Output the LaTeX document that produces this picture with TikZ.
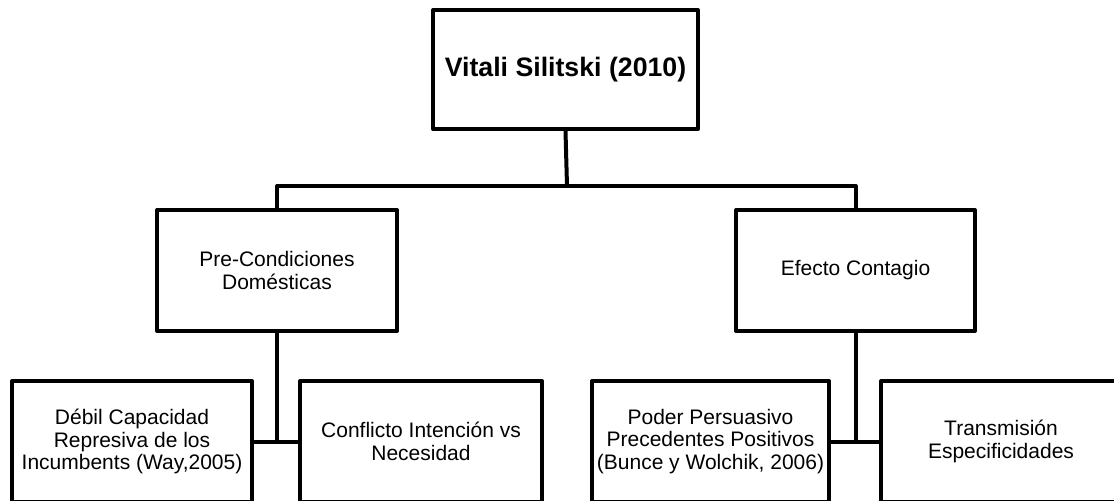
\documentclass[tikz,border=0pt]{standalone}
\usepackage{fontspec}
\setmainfont{Liberation Sans}
\usetikzlibrary{positioning, calc}

\tikzset{
  box/.style={draw, line width=2pt, line join=round, align=center, inner sep=0pt,
    minimum height=60.5pt, font=\fontsize{10.5}{11.35}\selectfont},
  topbox/.style={box, minimum width=132.5pt, minimum height=59.5pt,
    font=\fontsize{13.35}{14}\selectfont\bfseries},
  link/.style={line width=2pt, line join=round}
}

\begin{document}
\begin{tikzpicture}[x=0.5pt, y=-0.5pt]
            \useasboundingbox (0,0) rectangle (1114,500);
            \clip (0,0) rectangle (1114,500);
            % top level
            \node[topbox] (vs) at (565.5,69.5) {Vitali Silitski (2010)};
            % second level
            \node[box, minimum width=120pt] (pc) at (277,270.5) {Pre-Condiciones\\Domésticas};
            \node[box, minimum width=119.5pt] (ec) at (855.5,270.5) {Efecto Contagio};
            % third level
            \node[box, minimum width=120pt] (dcr) at (132,441.5) {Débil Capacidad\\Represiva de los\\Incumbents (Way,2005)};
            \node[box, minimum width=121pt] (civ) at (421,441.5) {Conflicto Intención vs\\Necesidad};
            \node[box, minimum width=118.5pt] (ppp) at (710.5,441.5) {Poder Persuasivo\\Precedentes Positivos\\(Bunce y Wolchik, 2006)};
            \node[box, minimum width=120pt] (te) at (1001,441.5) {Transmisión\\Especificidades};
            % connectors
            \coordinate (bus) at (567,186);
            \draw[link] (vs.south) -- (bus);
            \draw[link] (pc.north) |- (bus) -| (ec.north);
            \draw[link] (dcr.east) -- (civ.west);
            \draw[link] (pc.south) -- (pc.south |- dcr.east);
            \draw[link] (ppp.east) -- (te.west);
            \draw[link] (ec.south) -- (ec.south |- ppp.east);
        \end{tikzpicture}
\end{document}
